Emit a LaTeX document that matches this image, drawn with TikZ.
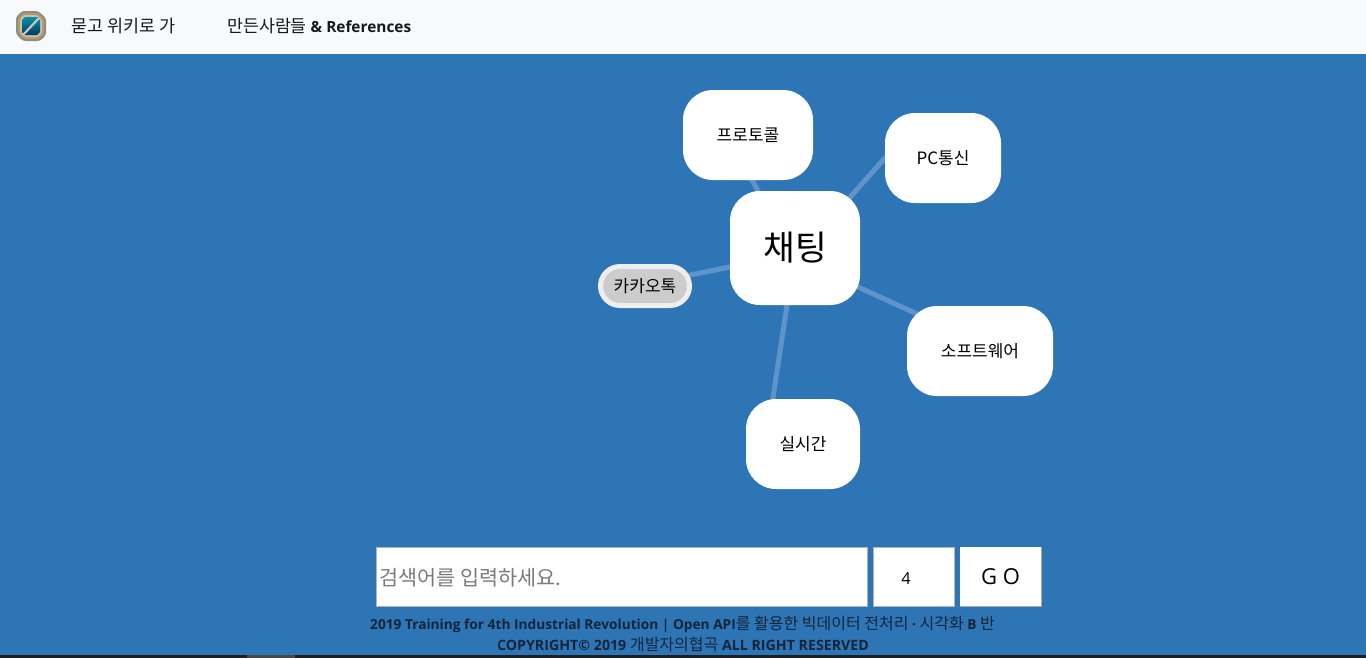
\documentclass[tikz,border=0pt]{standalone}
\usepackage{fontspec}
\setmainfont{Open Sans}
\newfontfamily\kr{Noto Sans CJK KR}
\usetikzlibrary{backgrounds}
\definecolor{pagebg}{HTML}{2E75B6}
\definecolor{barbg}{HTML}{F8F9FA}
\definecolor{edgec}{HTML}{5E94C9}
\definecolor{inkdark}{HTML}{212529}
\definecolor{kakaoring}{HTML}{EEEEEE}
\definecolor{kakaofill}{HTML}{CCCCCC}
\definecolor{boxline}{HTML}{B0B4B8}
\definecolor{btnline}{HTML}{A9A9A9}
\definecolor{goldc}{HTML}{B79A5E}
\definecolor{greyc}{HTML}{8C8C86}
\definecolor{tealc}{HTML}{0B5F82}
\definecolor{tealb}{HTML}{063A58}
\definecolor{footc}{HTML}{14253A}
\newcommand{\pxfont}[1]{\fontsize{\dimexpr#1pt*3/4\relax}{\dimexpr#1pt\relax}\selectfont}
\tikzset{
  x=0.75pt,y=-0.75pt,
  leafnode/.style={fill=white,rounded corners=22.5pt,inner sep=0pt,text=black,font=\kr\pxfont{17}},
  hubnode/.style={leafnode,font=\kr\pxfont{34.5}},
  link/.style={draw=edgec,line width=3.75pt},
  field/.style={fill=white,draw=boxline,line width=0.75pt,inner sep=0pt},
  navtext/.style={anchor=base west,inner sep=0pt,text=black!90,font=\pxfont{16}},
  foottext/.style={anchor=base,inner sep=0pt,text=footc,font=\bfseries\pxfont{14}}
}
\newcommand{\krn}[1]{{\kr\mdseries\pxfont{16}#1}}
\begin{document}
\begin{tikzpicture}
\useasboundingbox (0,0) rectangle (1366,658);
% nodes
\node[hubnode,minimum width=97.5pt,minimum height=85.5pt] (hub) at (795,248) {\hspace{1pt}\raisebox{-0.75pt}{채팅}};
\node[leafnode,minimum width=97.5pt,minimum height=67.5pt] (proto) at (748,135) {\raisebox{-0.75pt}{프로토콜}};
\node[leafnode,minimum width=87pt,minimum height=67.5pt] (pc) at (943,158) {\raisebox{-0.5pt}{PC통신}};
\node[leafnode,minimum width=109.5pt,minimum height=67.5pt] (soft) at (980,351) {\raisebox{-0.75pt}{소프트웨어}};
\node[leafnode,minimum width=85.5pt,minimum height=67.5pt] (real) at (803,444) {\raisebox{-0.75pt}{실시간}};
\node[leafnode,fill=kakaofill,draw=kakaoring,line width=3.75pt,rounded corners=14.6pt,minimum width=66.75pt,minimum height=29.25pt] (kakao) at (645,286) {\raisebox{-0.5pt}{카카오톡}};
\begin{pgfonlayer}{background}
\fill[pagebg] (0,0) rectangle (1366,658);
\fill[barbg] (0,0) rectangle (1366,54);
\fill[inkdark!85!black] (0,655) rectangle (1366,658);
\fill[black!72] (247,655) rectangle (295,658);
\draw[link] ([shift={(-31,-46)}]hub.center) -- ([shift={(-2,34)}]proto.center);
\draw[link] ([shift={(40,-34)}]hub.center) -- ([shift={(-50,-9)}]pc.center);
\draw[link] ([shift={(41,29)}]hub.center) -- ([shift={(-43,-28)}]soft.center);
\draw[link] ([shift={(-5,37)}]hub.center) -- ([shift={(-32,-33)}]real.center);
\draw[link] ([shift={(-45,15)}]hub.center) -- ([shift={(25,-7)}]kakao.center);
\end{pgfonlayer}
% logo
\fill[greyc,rounded corners=2pt] (22,11) -- (38,11) -- (46,18) -- (46,35) -- (40,41) -- (23,41) -- (16,34) -- (16,17) -- cycle;
\fill[goldc,rounded corners=1.5pt] (23,13) -- (38,13) -- (44,19) -- (44,34) -- (39,39) -- (24,39) -- (18,33) -- (18,18) -- cycle;
\fill[greyc!55!white,rounded corners=1pt] (24,15) -- (37,15) -- (42,20) -- (42,33) -- (38,37) -- (25,37) -- (20,32) -- (20,19) -- cycle;
\shade[top color=tealc!70!cyan,bottom color=tealb] (25,17) -- (37,17) -- (40,20) -- (40,32) -- (37,35) -- (25,35) -- (22,32) -- (22,20) -- cycle;
\draw[greyc!50!white,line width=1.6pt] (23,35) -- (39,18);
% nav
\node[navtext] (nava) at (71,32) {\kr\pxfont{17.4}묻고 위키로 가};
\node[navtext] (navb) at (227,32) {\kr\pxfont{17.3}만든사람들 \bfseries\rmfamily\pxfont{15.4}\& References};
% search row
\node[field,minimum width=368.25pt,minimum height=44.25pt] (search) at (622,577) {};
\node[anchor=west,inner sep=0pt,text=black!52,font=\kr\pxfont{20.7}] (hint) at (379,577.5) {검색어를 입력하세요.};
\node[field,minimum width=60.75pt,minimum height=44.25pt] (num) at (914,577) {};
\node[inner sep=0pt,text=black,font=\pxfont{16.5}] (numval) at (906,578.5) {4};
\node[fill=white,inner sep=0pt,minimum width=60.75pt,minimum height=44.25pt,text=black,font=\pxfont{22}] (go) at (1000.5,576.5) {\raisebox{-1pt}{G O}};
\draw[btnline,line width=1.1pt] (go.north east) -- (go.south east) -- (go.south west);
% footer
\node[foottext] (f1) at (682.5,629) {\pxfont{13.7}2019 Training for 4th Industrial Revolution | Open API\krn{를 활용한 빅데이터 전처리} · \krn{시각화} B \krn{반}};
\node[foottext] (f2) at (683,650) {\pxfont{14.2}COPYRIGHT© 2019 \krn{개발자의협곡} ALL RIGHT RESERVED};
\end{tikzpicture}
\end{document}
